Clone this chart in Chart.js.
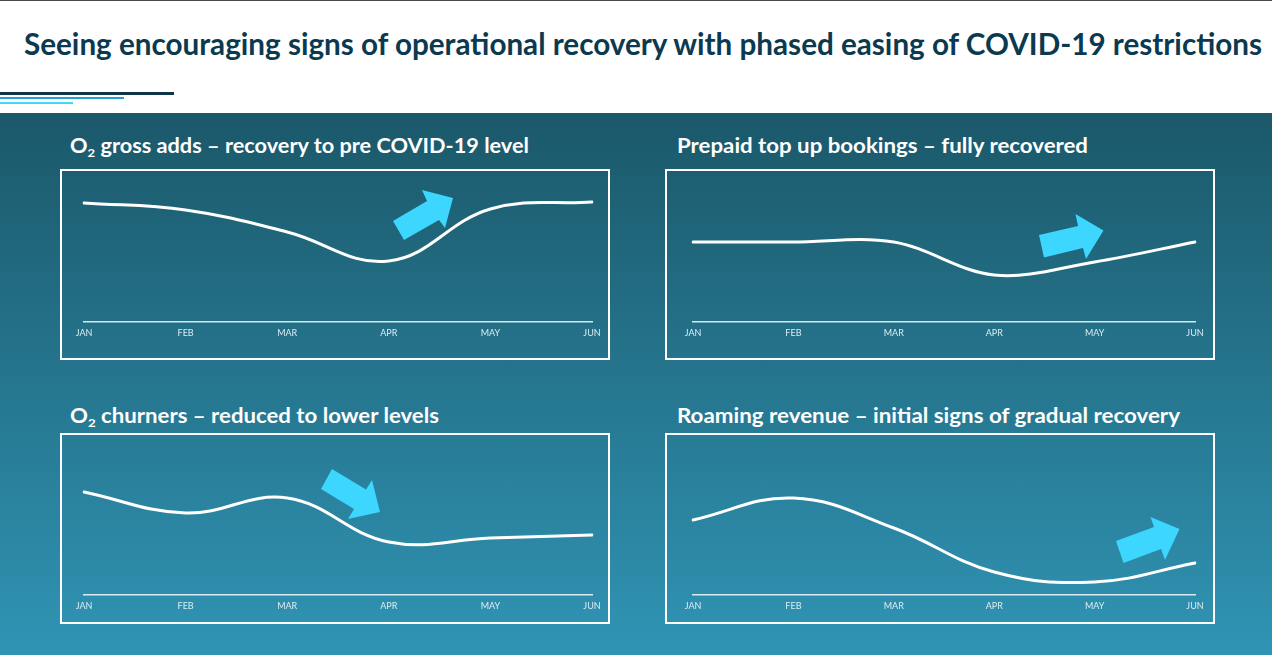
<!doctype html>
<html lang="en">
<head>
<meta charset="UTF-8" />
<title>Operational recovery</title>
<style>
  body {
    margin: 0;
    width: 1272px;
    height: 655px;
    position: relative;
    overflow: hidden;
    background: #fff;
    font-family: Lato, 'Open Sans', sans-serif;
  }
  .topline { position: absolute; left: 0; top: 0; width: 1272px; height: 1px; background: #4a4a4a; }
  h1 {
    position: absolute; left: 24px; top: 25px; margin: 0;
    font-size: 30px; line-height: 36px; font-weight: 700;
    color: #0b3a50; white-space: nowrap; transform-origin: left top;
  }
  .deco { position: absolute; left: 0; }
  .stage {
    position: absolute; left: 0; top: 113px; width: 1272px; height: 542px;
    background: linear-gradient(#1b586a, #3094b4);
  }
  .ptitle {
    position: absolute; color: #fff; font-weight: 700;
    font-size: 20px; line-height: 24px; white-space: nowrap; transform-origin: left top;
  }
  .ptitle sub { font-size: 12px; vertical-align: -4px; line-height: 0; }
  .box {
    position: absolute; border: 2px solid #fff; box-sizing: border-box;
    width: 550px; height: 191px;
  }
  .chart { position: absolute; }
  svg.arrows { position: absolute; left: 0; top: 0; }
</style>
</head>
<body>
  <div class="topline"></div>
  <h1 id="title" data-w="1238">Seeing encouraging signs of operational recovery with phased easing of COVID-19 restrictions</h1>
  <div class="deco" style="top:92px;width:174px;height:3px;background:#0e3447"></div>
  <div class="deco" style="top:97px;width:124px;height:2px;background:#22a0d2"></div>
  <div class="deco" style="top:102px;width:73px;height:2px;background:#40d8f5"></div>

  <div class="stage"></div>

  <div class="ptitle" style="left:70px;top:133px" data-w="459">O<sub>2</sub> gross adds – recovery to pre COVID-19 level</div>
  <div class="ptitle" style="left:677px;top:133px" data-w="411">Prepaid top up bookings – fully recovered</div>
  <div class="ptitle" style="left:70px;top:403px" data-w="369">O<sub>2</sub> churners – reduced to lower levels</div>
  <div class="ptitle" style="left:677px;top:403px" data-w="503">Roaming revenue – initial signs of gradual recovery</div>

  <div class="box" style="left:60px;top:169px"></div>
  <div class="box" style="left:665px;top:169px"></div>
  <div class="box" style="left:60px;top:433px"></div>
  <div class="box" style="left:665px;top:433px"></div>

  <canvas class="chart" id="grossAdds" width="548" height="170" style="left:64px;top:172px"></canvas>
  <canvas class="chart" id="topUp" width="542" height="170" style="left:673px;top:172px"></canvas>
  <canvas class="chart" id="churners" width="548" height="170" style="left:64px;top:445px"></canvas>
  <canvas class="chart" id="roaming" width="542" height="170" style="left:673px;top:445px"></canvas>

  <svg class="arrows" width="1272" height="655">
    <g fill="#3cd6fe">
      <polygon points="393,221 427,201 422,190 453,198 445,228 439,220 404,240" />
      <polygon points="1039,235 1078,226 1075.5,214 1103.5,230.5 1086,259 1083,248 1044,257.5" />
      <polygon points="332,469 366,489.5 372,480 380,512 348,519 354,509 321,489" />
      <polygon points="1116,541 1154,527 1150.5,517 1179.5,529 1165,560 1161,549 1123.5,563" />
    </g>
  </svg>

  <script src="https://cdn.jsdelivr.net/npm/chart.js@4"></script>
  <script>
    // months on every panel
    const months = ['JAN', 'FEB', 'MAR', 'APR', 'MAY', 'JUN'];

    // index values (height above the axis line)
    const grossAdds = [119, 112, 90, 61, 113, 120];
    const topUpBookings = [80, 80, 80, 47, 60, 80];
    const churners = [103, 82, 97, 53, 57, 60];
    const roamingRevenue = [75, 97, 67, 23, 13, 32];

    const yMax = 150;

    function makeChart(id, values, tension) {
      return new Chart(document.getElementById(id), {
        type: 'line',
        data: {
          labels: months,
          datasets: [{
            data: values,
            borderColor: '#ffffff',
            borderWidth: 3,
            pointRadius: 0,
            tension: tension,
            fill: false,
            borderCapStyle: 'round',
          }],
        },
        options: {
          responsive: false,
          animation: false,
          layout: { padding: { left: 20, right: 20, top: 0, bottom: 0 } },
          plugins: { legend: { display: false }, tooltip: { enabled: false } },
          scales: {
            x: {
              offset: false,
              grid: { display: false, drawTicks: false },
              border: { display: true, color: 'rgba(235,245,250,0.9)', width: 1.5 },
              ticks: {
                color: '#dcedf3',
                font: { family: 'Lato', size: 9 },
                padding: 6,
                maxRotation: 0,
                autoSkip: false,
              },
              afterFit: (scale) => { scale.height = 20; },
            },
            y: { display: false, min: 0, max: yMax },
          },
        },
      });
    }

    makeChart('grossAdds', grossAdds, 0.4);
    makeChart('topUp', topUpBookings, 0.35);
    makeChart('churners', churners, 0.4);
    makeChart('roaming', roamingRevenue, 0.4);

    // squeeze the headings to the widths of the original text
    document.querySelectorAll('[data-w]').forEach((el) => {
      const w = el.getBoundingClientRect().width;
      const target = +el.dataset.w;
      el.style.transform = 'scaleX(' + (target / w) + ')';
    });
  </script>
</body>
</html>
